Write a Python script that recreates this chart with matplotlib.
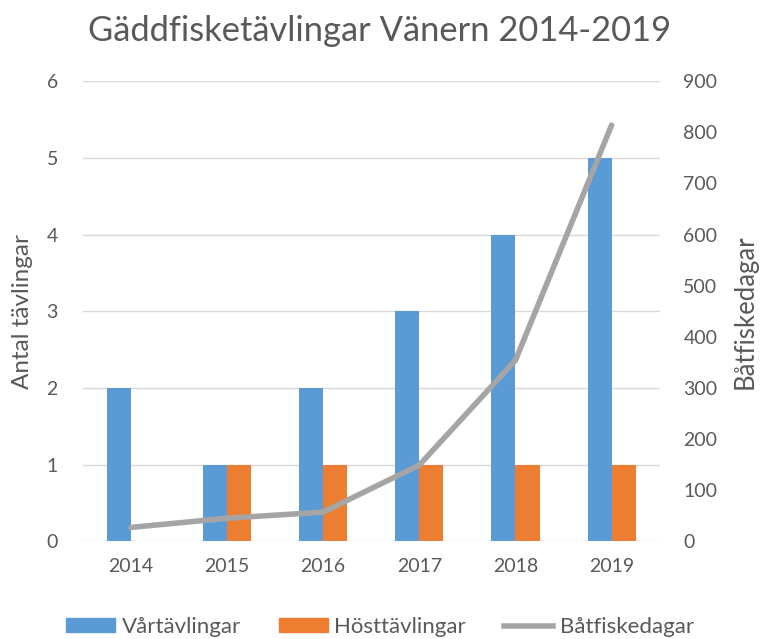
import matplotlib
matplotlib.use("Agg")
import matplotlib.pyplot as plt
import numpy as np
from matplotlib.lines import Line2D
from matplotlib.patches import Patch

years = ["2014", "2015", "2016", "2017", "2018", "2019"]
vartavlingar = [2, 1, 2, 3, 4, 5]
hosttavlingar = [0, 1, 1, 1, 1, 1]
batfiskedagar = [27, 45, 57, 149, 354, 814]

plt.rcParams['font.family'] = ['Lato', 'DejaVu Sans']
txt = '#595959'
blue = '#5B9BD5'
orange = '#ED7D31'
gray = '#A5A5A5'

fig = plt.figure(figsize=(7.6, 6.39), dpi=100)
ax = fig.add_axes([0.109, 0.153, 0.759, 0.72])
ax2 = ax.twinx()

x = np.arange(len(years))
w = 0.25
ax.bar(x - w / 2, vartavlingar, w, color=blue, zorder=2)
ax.bar(x + w / 2, hosttavlingar, w, color=orange, zorder=2)
ax2.plot(x, batfiskedagar, color=gray, lw=4, solid_capstyle='round', zorder=3)

ax.set_xlim(-0.5, len(years) - 0.5)
ax.set_ylim(0, 6)
ax2.set_ylim(0, 900)
ax.set_yticks(range(0, 7))
ax2.set_yticks(range(0, 901, 100))
ax.set_xticks(x)
ax.set_xticklabels(years)
ax.yaxis.grid(True, color='#D9D9D9', lw=1)
ax.set_axisbelow(True)

for a in (ax, ax2):
    for s in a.spines.values():
        s.set_visible(False)
    a.tick_params(length=0, colors=txt, labelsize=14)
ax.tick_params(axis='y', pad=18)
ax2.tick_params(axis='y', pad=17)
ax.tick_params(axis='x', pad=12)

ax.set_ylabel("Antal tävlingar", color=txt, fontsize=17.5)
ax.yaxis.set_label_coords(-0.086, 0.5)
ax2.set_ylabel("Båtfiskedagar", color=txt, fontsize=18.5)
ax2.yaxis.set_label_coords(1.127, 0.5)

fig.text(0.5, 0.952, "Gäddfisketävlingar Vänern 2014-2019", ha='center', va='center',
         color=txt, fontsize=24.8)

handles = [Patch(color=blue), Patch(color=orange), Line2D([0], [0], color=gray, lw=4)]
labels = ["Vårtävlingar", "Hösttävlingar", "Båtfiskedagar"]
fig.legend(handles, labels, loc='center', bbox_to_anchor=(0.5, 0.019), ncol=3,
           frameon=False, fontsize=16, labelcolor=txt, handlelength=2.2,
           handleheight=0.55, columnspacing=1.7, handletextpad=0.3)

fig.savefig("out.png", dpi=100)
